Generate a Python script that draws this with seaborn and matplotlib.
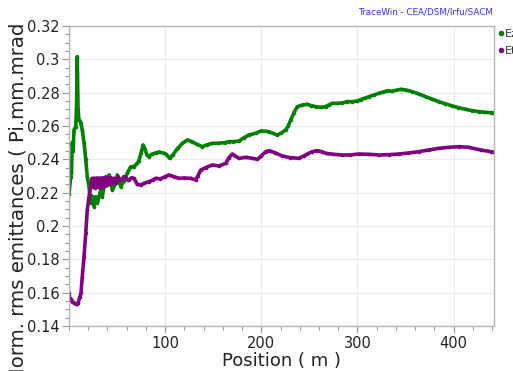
import numpy as np
import pandas as pd
import matplotlib
matplotlib.use("Agg")
import matplotlib.pyplot as plt
import seaborn as sns
from matplotlib.lines import Line2D
from matplotlib.ticker import MultipleLocator, FuncFormatter
from matplotlib.transforms import Bbox, TransformedBbox

# ---- data ----
ez_pos = [0, 1.8, 2.6, 3.4, 4.2, 5.2, 7.0, 7.8, 8.6, 9.4, 10.4, 12.2, 13.8, 15.6, 17.4, 19.0,
          20.8, 22.6, 23.9, 26.0, 27.8, 29.4, 33.0, 34.6, 38.2, 39.8, 41.6, 45.0, 48.6, 50.2,
          53.8, 57.2, 60.6, 64.2, 67.6, 71.0, 72.5, 75.0, 77.0, 79.0, 81.0, 83.0, 86.0, 90.0,
          93.6, 98.8, 101.0, 104.7, 108.0, 113.0, 118.0, 123.0, 128.0, 133.0, 138.6, 143.0,
          149.0, 155.0, 162.0, 166.0, 171.0, 176.8, 182.0, 187.0, 194.0, 199.3, 204.5, 208.0,
          212.0, 216.6, 220.0, 225.3, 228.0, 230.5, 234.0, 237.4, 242.6, 247.8, 252.0, 256.5,
          262.0, 266.9, 270.0, 273.8, 279.0, 284.2, 289.4, 294.6, 299.8, 303.3, 308.0, 312.0,
          317.0, 322.3, 327.0, 331.0, 336.0, 340.0, 344.9, 350.0, 357.0, 364.0, 370.9, 378.0,
          384.7, 391.0, 398.6, 405.0, 412.5, 419.0, 426.3, 432.0, 438.5, 441.0]
ez_val = [0.219, 0.2296, 0.232, 0.250, 0.245, 0.2576, 0.2596, 0.270, 0.3016, 0.270, 0.2636,
          0.262, 0.2576, 0.250, 0.240, 0.2296, 0.2236, 0.2138, 0.218, 0.2116, 0.2176, 0.2136,
          0.2216, 0.2176, 0.2296, 0.2256, 0.2306, 0.2216, 0.2256, 0.2306, 0.2236, 0.227,
          0.2316, 0.2356, 0.2356, 0.2376, 0.239, 0.244, 0.2486, 0.246, 0.2426, 0.2416, 0.243,
          0.2438, 0.2444, 0.2436, 0.2430, 0.2406, 0.2426, 0.2466, 0.2496, 0.2516, 0.2506,
          0.249, 0.2476, 0.2486, 0.2496, 0.2496, 0.250, 0.2506, 0.2506, 0.2510, 0.253, 0.2546,
          0.2556, 0.2570, 0.2568, 0.2566, 0.2556, 0.2546, 0.2556, 0.2576, 0.260, 0.2636,
          0.268, 0.2716, 0.2726, 0.2730, 0.2722, 0.2716, 0.2712, 0.2716, 0.2726, 0.2736,
          0.2736, 0.2738, 0.2746, 0.2746, 0.2750, 0.2758, 0.2768, 0.2776, 0.2786, 0.2796,
          0.2804, 0.2812, 0.2808, 0.2814, 0.2820, 0.2816, 0.2806, 0.2792, 0.2776, 0.2760,
          0.2746, 0.2734, 0.2720, 0.2710, 0.2700, 0.2692, 0.2686, 0.2682, 0.2680, 0.2680]

et_pos = [0, 1.0, 2.4, 3.4, 5.0, 6.9, 8.6, 9.3, 11.4, 12.5, 13.8, 15.6, 17.4, 19.0, 20.8,
          22.6, 24.0, 25.0, 26.0, 27.3, 28.5, 29.8, 31.0, 32.3, 33.5, 34.8, 36.0, 37.3, 38.5,
          39.8, 41.0, 42.4, 43.7, 45.0, 46.5, 48.6, 51.0, 53.0, 55.0, 57.0, 59.0, 61.0, 62.4,
          65.0, 67.6, 71.0, 74.5, 78.0, 83.2, 87.0, 90.1, 95.0, 100.0, 104.0, 109.0, 114.4,
          120.0, 126.5, 131.7, 134.0, 137.0, 142.0, 149.0, 156.0, 163.0, 166.4, 169.8, 173.0,
          176.8, 184.0, 190.6, 196.0, 200.0, 204.5, 208.0, 214.0, 221.8, 230.0, 239.0, 244.0,
          247.8, 253.0, 258.2, 263.0, 267.0, 275.0, 284.2, 292.0, 301.5, 312.0, 322.3, 333.0,
          343.0, 353.0, 364.0, 374.0, 384.7, 395.0, 405.5, 416.0, 428.0, 438.5, 441.0]
et_val = [0.1596, 0.1556, 0.1560, 0.1546, 0.1540, 0.1532, 0.1530, 0.1536, 0.1576, 0.160,
          0.1696, 0.1816, 0.1956, 0.2096, 0.2176, 0.2236, 0.2286, 0.2236, 0.2286, 0.2230,
          0.2288, 0.2234, 0.2288, 0.2236, 0.2288, 0.2236, 0.2290, 0.2240, 0.2290, 0.2246,
          0.2290, 0.2250, 0.2290, 0.2255, 0.2286, 0.2260, 0.2296, 0.2276, 0.2280, 0.2296,
          0.2290, 0.2276, 0.2276, 0.2290, 0.2286, 0.2250, 0.2246, 0.2256, 0.2266, 0.2276,
          0.2286, 0.2283, 0.2296, 0.2306, 0.2296, 0.2286, 0.2288, 0.2286, 0.2276, 0.2300,
          0.2336, 0.2350, 0.2366, 0.2360, 0.2376, 0.2410, 0.2432, 0.2420, 0.2406, 0.2412,
          0.2406, 0.2400, 0.2420, 0.2446, 0.2452, 0.2440, 0.2420, 0.2410, 0.2406, 0.2420,
          0.2432, 0.2446, 0.2452, 0.2446, 0.2436, 0.2430, 0.2426, 0.2426, 0.2432, 0.2430,
          0.2426, 0.2428, 0.2432, 0.2438, 0.2446, 0.2456, 0.2466, 0.2472, 0.2476, 0.2472,
          0.2456, 0.2446, 0.2444]

series_names = ["Ez", "Et"]
series_colors = ["#008000", "#800080"]
x_ticks = [100, 200, 300, 400]
y_ticks = [0.14, 0.16, 0.18, 0.2, 0.22, 0.24, 0.26, 0.28, 0.3, 0.32]

# ---- plot ----
sns.set_style("white")
plt.rcParams['font.family'] = ['DejaVu Sans']

fig = plt.figure(figsize=(5.13, 3.71), dpi=100)
ax = fig.add_axes([0.1345, 0.1213, 0.8285, 0.8087])

df_ez = pd.DataFrame({"pos": ez_pos, "val": ez_val})
df_et = pd.DataFrame({"pos": et_pos, "val": et_val})
for df, col in zip([df_ez, df_et], series_colors):
    sns.lineplot(data=df, x="pos", y="val", ax=ax, color=col, lw=2.6, sort=False,
                 marker="o", markersize=2.6, markeredgewidth=0, estimator=None)

ax.set_xlim(0, 442)
ax.set_ylim(0.14, 0.32)
ax.set_xticks(x_ticks)
ax.set_yticks(y_ticks)
ax.xaxis.set_minor_locator(MultipleLocator(20))
ax.yaxis.set_minor_locator(MultipleLocator(0.005))
ax.yaxis.set_major_formatter(FuncFormatter(lambda v, p: f"{v:g}"))
ax.grid(True, which="major", color="#ebebeb", lw=0.8)
ax.set_axisbelow(True)
for s in ax.spines.values():
    s.set_color("#b4b4b4")
    s.set_linewidth(1.0)
ax.tick_params(which="major", direction="out", length=5, width=0.8, color="#999999",
               labelsize=10.5, labelcolor="#222222", pad=2, left=True, bottom=True)
ax.tick_params(which="minor", direction="out", length=3, width=0.8, color="#999999",
               left=True, bottom=True)

ax.set_xlabel("Position ( m )", fontsize=13, color="#222222", labelpad=1)
ylab = ax.set_ylabel("Norm. rms emittances ( Pi.mm.mrad )", fontsize=14.2, color="#222222")
ax.yaxis.set_label_coords(-0.097, 0.435)
ylab.set_clip_box(TransformedBbox(Bbox([[0, 0], [1, (371 - 22) / 371]]), fig.transFigure))
ylab.set_clip_on(True)

handles = [Line2D([], [], marker="o", ls="", color=c, markersize=3) for c in series_colors]
ax.legend(handles, series_names, loc="upper left", bbox_to_anchor=(1.0, 1.004),
          frameon=False, fontsize=8, handlelength=0.4, handletextpad=0.15,
          labelspacing=0.6, borderaxespad=0.0, labelcolor="#333333")

fig.text(0.961, 0.968, "TraceWin - CEA/DSM/Irfu/SACM", ha="right", va="center",
         fontsize=6.3, color="#3333ee")

fig.savefig("out.png", dpi=100)
